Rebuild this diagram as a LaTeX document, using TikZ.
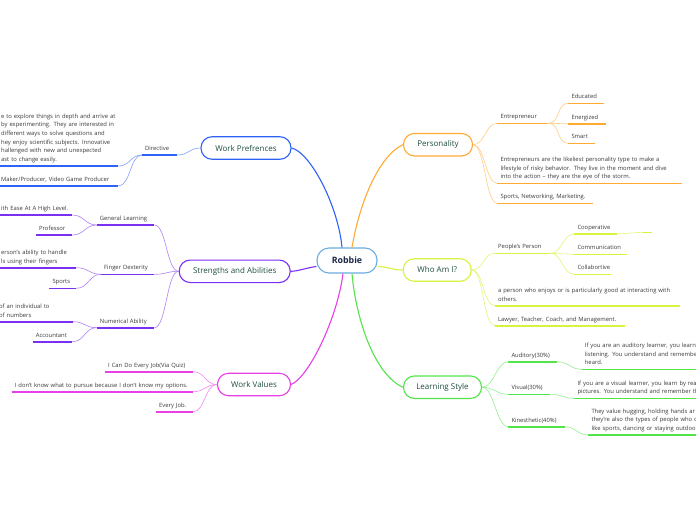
\documentclass[tikz,border=0pt]{standalone}
\usepackage{fontspec}
\setmainfont{Open Sans}
\definecolor{rootedge}{HTML}{6AAEE0}
\definecolor{roottext}{HTML}{1A2747}
\definecolor{topictext}{HTML}{1F4F3F}
\definecolor{leaftext}{HTML}{3A3A3A}
\definecolor{wpblue}{HTML}{2F62F7}
\definecolor{sapurple}{HTML}{7B2FF2}
\definecolor{wvmagenta}{HTML}{E93FE6}
\definecolor{persorange}{HTML}{FFAA33}
\definecolor{waiyellow}{HTML}{D8F23E}
\definecolor{lsgreen}{HTML}{52E54A}

\begin{document}
\begin{tikzpicture}[x=1pt, y=-1pt,
  root/.style={rectangle, rounded corners=12pt, draw=rootedge, line width=1.1pt,
               fill=white, minimum width=60pt, minimum height=25pt,
               font=\fontsize{8.8}{10}\selectfont\bfseries, text=roottext},
  topic/.style={rectangle, rounded corners=11pt, line width=1.1pt, fill=white,
                minimum height=22.5pt, font=\fontsize{8}{10}\selectfont, text=topictext},
  leaf/.style={anchor=south west, align=left, inner xsep=3pt, inner ysep=1.6pt,
               font=\fontsize{5.85}{8.7}\selectfont, text=leaftext,
               execute at end node={\strut}},
  ul/.style={line width=1.6pt},
  twig/.style={line width=0.6pt},
  limb/.style={line width=1.1pt},
]
\fill[white] (0,0) rectangle (696,520);
\useasboundingbox (0,0) rectangle (696,520);
\clip (0,0) rectangle (696,520);

% root and main topics
\node[root] (robbie) at (347,260.5) {Robbie};
\node[topic, draw=wpblue, minimum width=90pt] (wp) at (246,148) {Work Prefrences};
\node[topic, draw=sapurple, minimum width=111pt] (sa) at (234.7,271.3) {Strengths and Abilities};
\node[topic, draw=wvmagenta, minimum width=73pt] (wv) at (254,384.5) {Work Values};
\node[topic, draw=persorange, minimum width=69pt] (pers) at (438,144.7) {Personality};
\node[topic, draw=waiyellow, minimum width=68pt] (wai) at (437.2,270) {Who Am I?};
\node[topic, draw=lsgreen, minimum width=78pt] (ls) at (442.5,387.2) {Learning Style};

% root -> topics
\draw[limb, wpblue] ([xshift=-5pt]robbie.north) .. controls (338,205) and (310,152) .. (wp.east);
\draw[limb, persorange] ([xshift=5pt]robbie.north) .. controls (360,200) and (380,155) .. (pers.west);
\draw[limb, sapurple] ([yshift=-6pt]robbie.west) .. controls (305,268) and (300,271) .. (sa.east);
\draw[limb, waiyellow] ([yshift=-6pt]robbie.east) .. controls (390,267) and (392,270) .. (wai.west);
\draw[limb, wvmagenta] ([xshift=-4pt]robbie.south) .. controls (337,320) and (308,378) .. (wv.east);
\draw[limb, lsgreen] ([xshift=5pt]robbie.south) .. controls (356,320) and (375,375) .. (ls.west);

% Work Prefrences
\node[leaf, text width=29pt] (dir) at (142,155) {Directive};
\node[leaf, text width=114pt] (dirA) at (-2,166) {\mbox{e to explore things in depth and arrive at}\\
  by experimenting. They are interested in\\different ways to solve questions and\\
  hey enjoy scientific subjects. Innovative\\hallenged with new and unexpected\\
  ast to change easily.};
\node[leaf, text width=114pt] (dirB) at (-2,186) {Maker/Producer, Video Game Producer};
\draw[twig, wpblue!60] (wp.west) .. controls +(-12,0) and +(12,0) .. (dir.south east);
\foreach \c in {dirA,dirB}
  \draw[twig, wpblue!60] (dir.south west) .. controls +(-12,0) and +(12,0) .. (\c.south east);
\foreach \c in {dir,dirA,dirB}
  \draw[ul, wpblue] (\c.south west) -- (\c.south east);

% Strengths and Abilities
\node[leaf, text width=51.3pt] (gl) at (96.7,225) {General Learning};
\node[leaf, text width=68pt] (glA) at (-2,215) {ith Ease At A High Level.};
\node[leaf, text width=30pt] (glB) at (36,235) {Professor};
\node[leaf, text width=47pt] (fd) at (101,274.3) {Finger Dexterity};
\node[leaf, text width=72pt] (fdA) at (-2,267.7) {erson’s ability to handle\\ls using their fingers};
\node[leaf, text width=20.7pt] (fdB) at (49.3,288.3) {Sports};
\node[leaf, text width=51.3pt] (na) at (96.7,327.7) {Numerical Ability};
\node[leaf, text width=70.7pt] (naA) at (-4,321.7) {of an individual to\\of numbers};
\node[leaf, text width=33.3pt] (naB) at (32.7,341.7) {Accountant};
\foreach \c in {gl,fd,na}
  \draw[twig, sapurple!60] (sa.west) .. controls +(-12,0) and +(12,0) .. (\c.south east);
\foreach \p/\c in {gl/glA,gl/glB,fd/fdA,fd/fdB,na/naA,na/naB}
  \draw[twig, sapurple!60] (\p.south west) .. controls +(-12,0) and +(12,0) .. (\c.south east);
\foreach \c in {gl,glA,glB,fd,fdA,fdB,na,naA,naB}
  \draw[ul, sapurple] (\c.south west) -- (\c.south east);

% Work Values
\node[leaf, text width=81.7pt] (wvA) at (105,371.7) {I Can Do Every Job(Via Quiz)};
\node[leaf, text width=175pt] (wvB) at (11.7,391.7) {I don’t know what to pursue because I don’t know my options.};
\node[leaf, text width=30.7pt] (wvC) at (156,411.7) {Every Job.};
\foreach \c in {wvA,wvB,wvC}{
  \draw[twig, wvmagenta!60] (wv.west) .. controls +(-12,0) and +(12,0) .. (\c.south east);
  \draw[ul, wvmagenta] (\c.south west) -- (\c.south east);
}

% Personality
\node[leaf, text width=44.7pt] (ent) at (497.3,123.3) {Entrepreneur};
\node[leaf, text width=29pt] (entA) at (568.3,103.3) {Educated};
\node[leaf, text width=31.4pt] (entB) at (568.3,123.7) {Energized};
\node[leaf, text width=20pt] (entC) at (568.3,143.3) {Smart};
\node[leaf, text width=178.4pt] (persB) at (497.3,183.3) {Entrepreneurs are the likeliest personality type to make a\\
  lifestyle of risky behavior. They live in the moment and dive\\into the action – they are the eye of the storm.};
\node[leaf, text width=89pt] (persC) at (497.3,203.3) {Sports, Networking, Marketing.};
\foreach \c in {ent,persB,persC}
  \draw[twig, persorange!60] (pers.east) .. controls +(12,0) and +(-12,0) .. (\c.south west);
\foreach \c in {entA,entB,entC}
  \draw[twig, persorange!60] (ent.south east) .. controls +(12,0) and +(-12,0) .. (\c.south west);
\foreach \c in {ent,entA,entB,entC,persB,persC}
  \draw[ul, persorange] (\c.south west) -- (\c.south east);

% Who Am I?
\node[leaf, text width=49pt] (pp) at (495,253.3) {People’s Person};
\node[leaf, text width=36.4pt] (ppA) at (574.3,234) {Cooperative};
\node[leaf, text width=46.4pt] (ppB) at (574.3,254.3) {Communication};
\node[leaf, text width=30.7pt] (ppC) at (574.3,274.3) {Collabortive};
\coordinate (ppAend) at (641.7,232.3);
\coordinate (ppAstub) at (651.7,232.3);
\node[leaf, text width=178.3pt] (waiB) at (495,305.7) {a person who enjoys or is particularly good at interacting with\\others.};
\node[leaf, text width=124pt] (waiC) at (495,325.7) {Lawyer, Teacher, Coach, and Management.};
\foreach \c in {pp,waiB,waiC}
  \draw[twig, waiyellow!70] (wai.east) .. controls +(12,0) and +(-12,0) .. (\c.south west);
\foreach \c in {ppA,ppB,ppC}
  \draw[twig, waiyellow!70] (pp.south east) .. controls +(12,0) and +(-12,0) .. (\c.south west);
\draw[twig, waiyellow!70] (ppA.south east) .. controls +(12,0) and +(-12,0) .. (ppAend);
\draw[ul, waiyellow] (ppAend) -- (ppAstub);
\foreach \c in {pp,ppA,ppB,ppC,waiB,waiC}
  \draw[ul, waiyellow] (\c.south west) -- (\c.south east);

% Learning Style
\node[leaf, text width=42.4pt] (aud) at (508.3,361.7) {Auditory(30\%)};
\node[leaf, text width=35.7pt] (vis) at (508.3,394.3) {Visual(30\%)};
\node[leaf, text width=50pt] (kin) at (508.3,426.7) {Kinesthetic(40\%)};
\node[leaf, text width=120pt] (audA) at (581.7,369.3) {If you are an auditory learner, you learn\\
  listening. You understand and remember\\heard.};
\node[leaf, text width=126pt] (visA) at (574.3,398.3) {If you are a visual learner, you learn by rea\\
  pictures. You understand and remember th};
\node[leaf, text width=114pt] (kinA) at (588.3,435) {They value hugging, holding hands ar\\
  they’re also the types of people who c\\like sports, dancing or staying outdoo};
\foreach \c in {aud,vis,kin}
  \draw[twig, lsgreen!60] (ls.east) .. controls +(12,0) and +(-12,0) .. (\c.south west);
\foreach \p/\c in {aud/audA,vis/visA,kin/kinA}
  \draw[twig, lsgreen!60] (\p.south east) .. controls +(12,0) and +(-12,0) .. (\c.south west);
\foreach \c in {aud,vis,kin,audA,visA,kinA}
  \draw[ul, lsgreen] (\c.south west) -- (\c.south east);
\end{tikzpicture}
\end{document}
